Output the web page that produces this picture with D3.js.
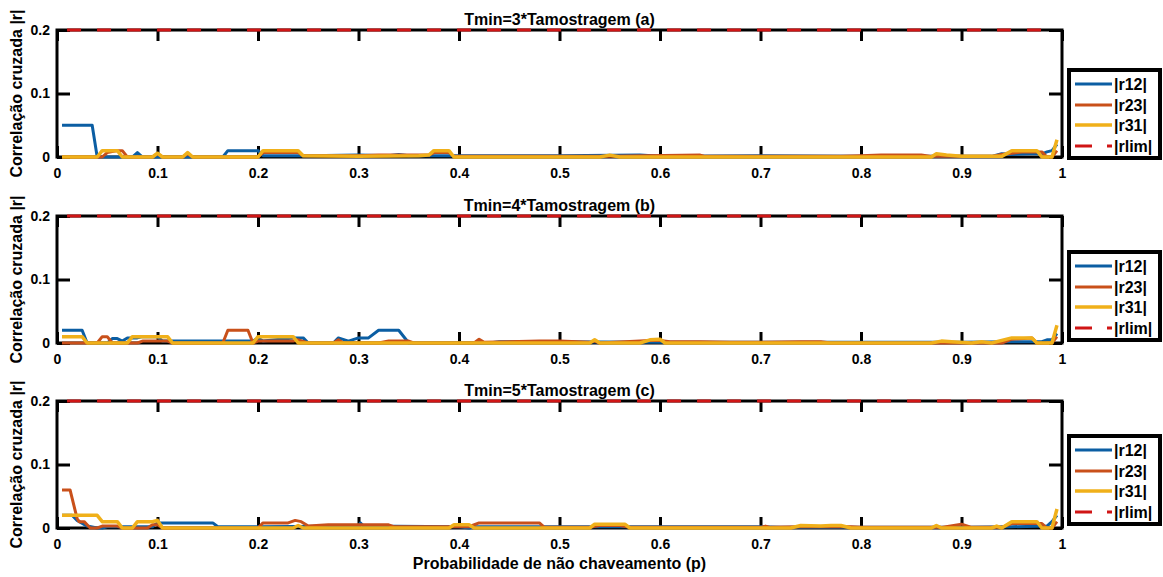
<!DOCTYPE html>
<html>
<head>
<meta charset="utf-8">
<script src="https://cdn.jsdelivr.net/npm/d3@7"></script>
<style>
  html, body { margin: 0; padding: 0; background: #fff; }
  svg { display: block; }
  text { font-family: "Liberation Sans", Arial, sans-serif; font-weight: bold; fill: #000; }
</style>
</head>
<body>
<svg id="chart" width="1163" height="577"></svg>
<script>
// Cross-correlation magnitudes |r| vs. non-switching probability p, for three Tmin settings.
// Each series is a list of [p, |r|] vertices.

const titles = ["Tmin=3*Tamostragem (a)", "Tmin=4*Tamostragem (b)", "Tmin=5*Tamostragem (c)"];
const seriesNames = ["|r12|", "|r23|", "|r31|", "|rlim|"];
const xTicks = [0, 0.1, 0.2, 0.3, 0.4, 0.5, 0.6, 0.7, 0.8, 0.9, 1];
const xTickLabels = ["0", "0.1", "0.2", "0.3", "0.4", "0.5", "0.6", "0.7", "0.8", "0.9", "1"];
const yTicks = [0, 0.1, 0.2];
const yTickLabels = ["0", "0.1", "0.2"];
const rlim = [[0.01, 0.2], [0.99, 0.2]];

// Tmin = 3*Tamostragem
const r12A = [[0.005,0.05],[0.035,0.05],[0.04,0],[0.075,0],[0.08,0.007],[0.085,0],[0.165,0],[0.17,0.01],[0.2,0.01],[0.205,0.002],[0.25,0.002],[0.3,0.003],[0.33,0.002],[0.34,0.004],[0.35,0.002],[0.45,0.002],[0.5,0.002],[0.58,0.003],[0.6,0.001],[0.7,0.002],[0.8,0.001],[0.93,0.001],[0.94,0.005],[0.95,0.004],[0.97,0.005],[0.98,0.005],[0.985,0.008],[0.99,0.01],[0.995,0.02]];
const r23A = [[0.005,0],[0.045,0],[0.05,0.007],[0.06,0.01],[0.065,0.01],[0.07,0],[0.095,0],[0.1,0.005],[0.105,0],[0.125,0],[0.13,0.005],[0.135,0],[0.2,0],[0.205,0.007],[0.24,0.007],[0.245,0.002],[0.3,0.002],[0.32,0.003],[0.37,0.003],[0.375,0.007],[0.39,0.007],[0.395,0.001],[0.5,0.001],[0.55,0.001],[0.64,0.003],[0.645,0.001],[0.78,0.001],[0.8,0.002],[0.82,0.003],[0.86,0.003],[0.87,0.001],[0.93,0.001],[0.94,0.004],[0.96,0.008],[0.98,0.008],[0.985,0],[0.99,0],[0.995,0.01]];
const r31A = [[0.005,0],[0.04,0],[0.045,0.01],[0.06,0.01],[0.065,0],[0.095,0],[0.1,0.006],[0.105,0],[0.125,0],[0.13,0.007],[0.135,0],[0.2,0],[0.205,0.01],[0.24,0.01],[0.245,0.002],[0.3,0.001],[0.36,0.002],[0.37,0.003],[0.375,0.01],[0.39,0.01],[0.395,0],[0.54,0],[0.55,0.003],[0.56,0],[0.87,0],[0.875,0.005],[0.885,0.003],[0.9,0.001],[0.94,0.001],[0.95,0.01],[0.975,0.01],[0.98,0],[0.99,0],[0.995,0.027]];

// Tmin = 4*Tamostragem
const r12B = [[0.005,0.02],[0.025,0.02],[0.03,0],[0.05,0],[0.055,0.007],[0.06,0.007],[0.065,0.003],[0.07,0.008],[0.08,0.008],[0.085,0.01],[0.1,0.01],[0.105,0.003],[0.195,0.003],[0.2,0.008],[0.205,0.003],[0.235,0.008],[0.245,0.008],[0.25,0],[0.275,0],[0.28,0.008],[0.29,0.003],[0.3,0.008],[0.31,0.008],[0.32,0.02],[0.34,0.02],[0.35,0],[0.43,0],[0.44,0.002],[0.48,0.002],[0.6,0.001],[0.62,0.001],[0.8,0.001],[0.9,0.001],[0.95,0.002],[0.98,0.002],[0.985,0.005],[0.99,0.005],[0.995,0.015]];
const r23B = [[0.005,0],[0.04,0],[0.045,0.01],[0.05,0.01],[0.055,0],[0.08,0],[0.085,0.003],[0.11,0.003],[0.115,0],[0.165,0],[0.17,0.02],[0.19,0.02],[0.195,0],[0.2,0.003],[0.235,0.003],[0.24,0.005],[0.25,0],[0.275,0],[0.28,0.005],[0.285,0],[0.32,0],[0.33,0.003],[0.35,0.003],[0.355,0],[0.415,0],[0.42,0.006],[0.425,0.001],[0.48,0.003],[0.5,0.003],[0.53,0.001],[0.535,0.003],[0.54,0],[0.59,0.004],[0.6,0.004],[0.61,0.002],[0.64,0.002],[0.67,0.001],[0.7,0.001],[0.74,0.002],[0.76,0.002],[0.77,0],[0.94,0],[0.95,0.006],[0.97,0.008],[0.975,0],[0.99,0],[0.995,0.01]];
const r31B = [[0.005,0.01],[0.025,0.01],[0.03,0],[0.07,0],[0.075,0.01],[0.11,0.01],[0.115,0],[0.195,0],[0.2,0.01],[0.235,0.01],[0.24,0],[0.53,0],[0.535,0.005],[0.54,0],[0.58,0],[0.59,0.005],[0.6,0.006],[0.605,0],[0.87,0],[0.88,0.003],[0.89,0.002],[0.91,0],[0.92,0.002],[0.93,0],[0.95,0.008],[0.97,0.008],[0.975,0],[0.99,0],[0.995,0.028]];

// Tmin = 5*Tamostragem
const r12C = [[0.005,0.02],[0.015,0.02],[0.02,0.012],[0.03,0.003],[0.04,0],[0.045,0],[0.05,0.002],[0.095,0.002],[0.1,0.008],[0.155,0.008],[0.16,0.002],[0.2,0.002],[0.3,0.003],[0.302,0.008],[0.305,0.003],[0.4,0.002],[0.41,0],[0.415,0.002],[0.5,0.002],[0.6,0.002],[0.65,0.002],[0.7,0.002],[0.72,0.001],[0.9,0.001],[0.95,0.002],[0.985,0.003],[0.99,0.01],[0.995,0.02]];
const r23C = [[0.005,0.06],[0.013,0.06],[0.02,0.015],[0.022,0.01],[0.027,0.01],[0.033,0],[0.04,0],[0.045,0.003],[0.06,0.003],[0.065,0],[0.09,0],[0.095,0.005],[0.1,0.005],[0.105,0],[0.2,0],[0.205,0.008],[0.23,0.008],[0.237,0.012],[0.243,0.01],[0.25,0.003],[0.27,0.005],[0.33,0.005],[0.335,0.002],[0.41,0.002],[0.42,0.008],[0.48,0.008],[0.485,0.001],[0.53,0.001],[0.54,0.004],[0.56,0.004],[0.57,0.001],[0.7,0.001],[0.705,0.003],[0.71,0.001],[0.74,0.002],[0.79,0.002],[0.8,0.001],[0.88,0.001],[0.9,0.006],[0.91,0.001],[0.94,0.001],[0.95,0.007],[0.98,0.007],[0.985,0],[0.99,0],[0.995,0.01]];
const r31C = [[0.005,0.02],[0.04,0.02],[0.045,0.01],[0.06,0.01],[0.065,0],[0.075,0],[0.08,0.01],[0.095,0.01],[0.1,0.012],[0.105,0],[0.235,0],[0.24,0.004],[0.245,0],[0.39,0],[0.395,0.005],[0.41,0.005],[0.415,0],[0.53,0],[0.535,0.006],[0.565,0.006],[0.57,0],[0.73,0],[0.74,0.004],[0.76,0.003],[0.77,0.004],[0.78,0.004],[0.79,0],[0.87,0],[0.875,0.004],[0.88,0],[0.93,0],[0.935,0.003],[0.94,0],[0.95,0.01],[0.975,0.01],[0.98,0],[0.99,0],[0.995,0.03]];

const panelSeries = [[r12A, r23A, r31A], [r12B, r23B, r31B], [r12C, r23C, r31C]];

const colors = ["#0b5ea3", "#c9501a", "#f0b01a", "#d01515"];
const widths = [3, 3, 3.5, 3];

const svg = d3.select("#chart");
const left = 57, right = 1062;
const panelTops = [30, 216, 401];
const panelH = 127;
const legendTops = [70, 252, 436];

const x = d3.scaleLinear().domain([0, 1]).range([left, right]);

panelTops.forEach((top, i) => {
  const bottom = top + panelH;
  const y = d3.scaleLinear().domain([0, 0.2]).range([bottom, top]);
  const g = svg.append("g");

  // Frame (box) and inward ticks
  g.append("rect")
    .attr("x", left).attr("y", top)
    .attr("width", right - left).attr("height", panelH)
    .attr("fill", "none").attr("stroke", "#000").attr("stroke-width", 3);

  const xb = g.append("g").attr("transform", `translate(0,${bottom})`)
    .call(d3.axisBottom(x).tickValues(xTicks).tickSizeInner(-11).tickSizeOuter(0)
      .tickPadding(11).tickFormat((d, k) => xTickLabels[k]));
  const xt = g.append("g").attr("transform", `translate(0,${top})`)
    .call(d3.axisTop(x).tickValues(xTicks).tickSizeInner(-11).tickSizeOuter(0).tickFormat(""));
  const yl = g.append("g").attr("transform", `translate(${left},0)`)
    .call(d3.axisLeft(y).tickValues(yTicks).tickSizeInner(-13).tickSizeOuter(0)
      .tickPadding(7).tickFormat((d, k) => yTickLabels[k]));
  const yr = g.append("g").attr("transform", `translate(${right},0)`)
    .call(d3.axisRight(y).tickValues(yTicks).tickSizeInner(-13).tickSizeOuter(0).tickFormat(""));
  [xb, xt, yl, yr].forEach(a => {
    a.select(".domain").remove();
    a.selectAll(".tick line").attr("stroke", "#000").attr("stroke-width", 3);
    a.selectAll(".tick text").style("font-size", "14px").attr("fill", "#000");
  });
  xb.selectAll(".tick text").attr("dy", "0.71em");

  // Title
  g.append("text")
    .attr("x", (left + right) / 2).attr("y", top - 5)
    .attr("text-anchor", "middle").style("font-size", "16px")
    .text(titles[i]);

  // Y label
  g.append("text")
    .attr("transform", `translate(22,${(top + bottom) / 2}) rotate(-90)`)
    .attr("text-anchor", "middle").style("font-size", "16px")
    .text("Correlação cruzada |r|");

  // Series
  const line = d3.line().x(d => x(d[0])).y(d => y(d[1]));
  panelSeries[i].forEach((s, k) => {
    g.append("path").datum(s)
      .attr("d", line)
      .attr("fill", "none")
      .attr("stroke", colors[k])
      .attr("stroke-width", widths[k])
      .attr("stroke-linejoin", "round");
  });
  g.append("path").datum(rlim)
    .attr("d", line)
    .attr("fill", "none")
    .attr("stroke", colors[3])
    .attr("stroke-width", widths[3])
    .attr("stroke-dasharray", "14,16");

  // Legend
  const lt = legendTops[i];
  const lg = g.append("g");
  lg.append("rect")
    .attr("x", 1069).attr("y", lt).attr("width", 91).attr("height", 88)
    .attr("fill", "#fff").attr("stroke", "#000").attr("stroke-width", 4);
  const offs = [14, 35, 55, 76];
  seriesNames.forEach((name, k) => {
    const yy = lt + offs[k];
    lg.append("line")
      .attr("x1", 1075).attr("x2", 1112).attr("y1", yy).attr("y2", yy)
      .attr("stroke", colors[k]).attr("stroke-width", k === 2 ? 3.5 : 3)
      .attr("stroke-dasharray", k === 3 ? "17,15" : null);
    lg.append("text")
      .attr("x", 1114).attr("y", yy + 6)
      .style("font-size", "16px")
      .text(name);
  });
});

// Shared X label
svg.append("text")
  .attr("x", (left + right) / 2).attr("y", 569)
  .attr("text-anchor", "middle").style("font-size", "16px")
  .text("Probabilidade de não chaveamento (p)");
</script>
</body>
</html>
